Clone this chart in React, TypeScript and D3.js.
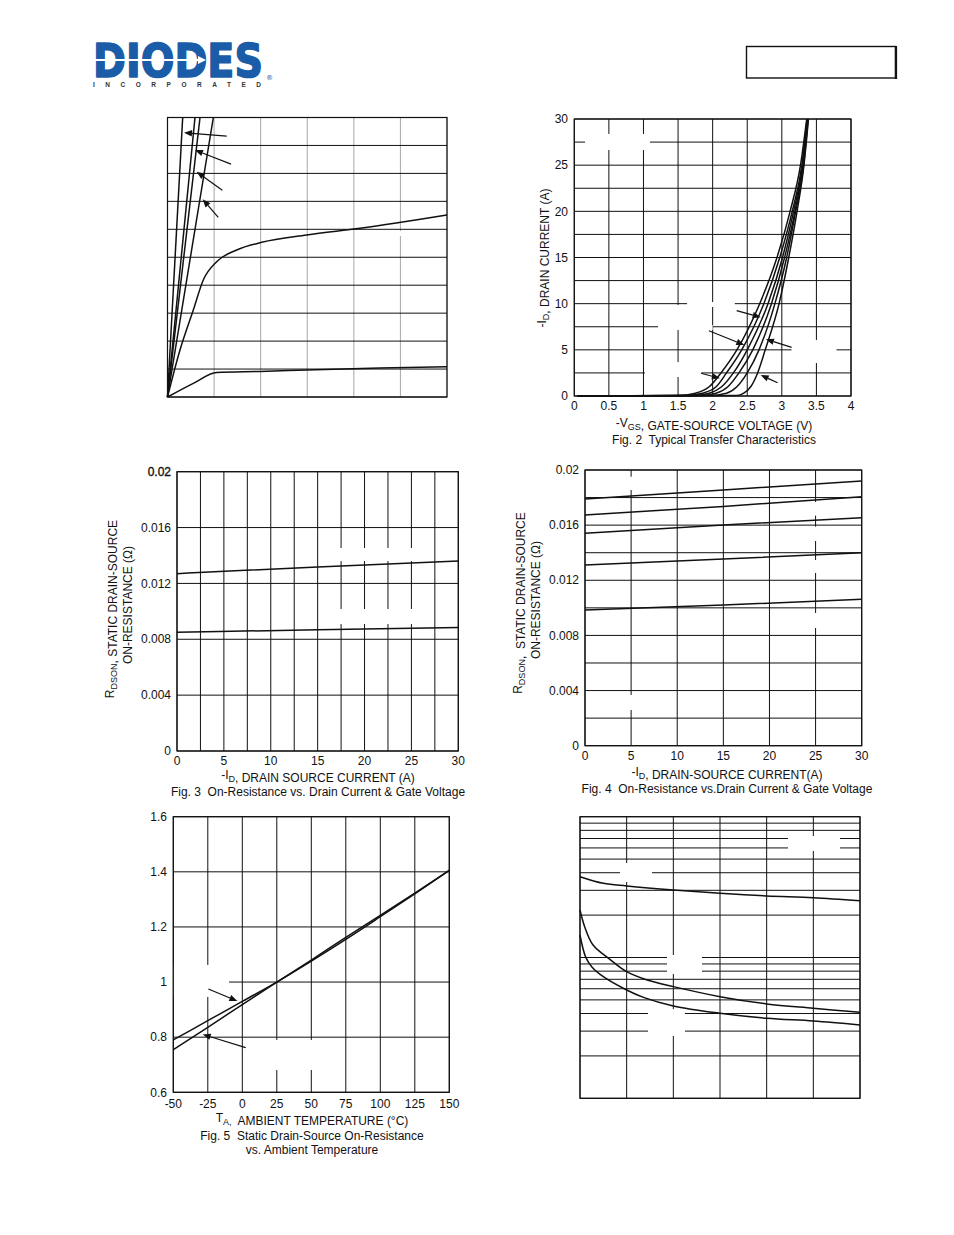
import React from "react";
import * as d3 from "d3";

type Pt = [number, number];

const FONT = "'Liberation Sans', Arial, Helvetica, sans-serif";
const INK = "#111";
const BLUE = "#1a5ca8";

// ---------------- Fig. 1 (axis labels blanked in source) ----------------
const fig1XGrid = [0, 0.5, 1, 1.5, 2, 2.5, 3];
const fig1YGrid = [0, 3, 6, 9, 12, 15, 18, 21, 24, 27, 30];
const fig1Steep1: Pt[] = [[0, 0], [0.163, 30]];
const fig1Steep2: Pt[] = [[0, 0], [0.295, 30]];
const fig1Steep3: Pt[] = [[0, 0], [0.349, 30]];
const fig1Steep4: Pt[] = [[0, 0], [0.492, 30]];
const fig1Knee: Pt[] = [[0, 0], [0.134, 5.04], [0.277, 9.34], [0.384, 12.56], [0.528, 14.52], [0.743, 15.78], [1.011, 16.6], [1.494, 17.39], [2.066, 18.1], [3.0, 19.53]];
const fig1Low: Pt[] = [[0, 0], [0.277, 1.47], [0.528, 2.63], [0.993, 2.74], [1.494, 2.9], [2.28, 3.11], [3.0, 3.25]];
const fig1Arrows: [Pt, Pt][] = [
  [[0.635, 28.01], [0.177, 28.37]],
  [[0.682, 25.0], [0.295, 26.5]],
  [[0.588, 22.2], [0.313, 24.18]],
  [[0.545, 19.29], [0.378, 21.22]],
];
const fig1Blank: number[][] = [[2.066, 2.99, 17.28, 17.82]];

// ---------------- Fig. 2 Typical Transfer Characteristics ----------------
const fig2XTicks = [0, 0.5, 1, 1.5, 2, 2.5, 3, 3.5, 4];
const fig2YTicks = [0, 5, 10, 15, 20, 25, 30];
const fig2YGrid = [0, 2.5, 5, 7.5, 10, 12.5, 15, 17.5, 20, 22.5, 25, 27.5, 30];
const fig2CurveA: Pt[] = [[0.05, 0], [1.5, 0.05], [1.75, 0.3], [1.95, 1], [2.12, 2.5], [2.35, 5], [2.68, 10], [2.93, 15], [3.12, 20], [3.27, 25], [3.36, 30]];
const fig2CurveB: Pt[] = [[0.05, 0], [1.6, 0.05], [1.85, 0.3], [2.05, 1], [2.2, 2.5], [2.42, 5], [2.74, 10], [2.97, 15], [3.15, 20], [3.29, 25], [3.365, 30]];
const fig2CurveC: Pt[] = [[0.05, 0], [1.7, 0.05], [1.95, 0.3], [2.13, 1], [2.3, 2.5], [2.5, 5], [2.8, 10], [3.01, 15], [3.17, 20], [3.3, 25], [3.37, 30]];
const fig2CurveD: Pt[] = [[0.05, 0], [1.8, 0.05], [2.05, 0.3], [2.22, 1], [2.38, 2.5], [2.58, 5], [2.85, 10], [3.04, 15], [3.19, 20], [3.31, 25], [3.375, 30]];
const fig2CurveE: Pt[] = [[0.05, 0], [1.95, 0.05], [2.2, 0.3], [2.35, 1], [2.5, 2.5], [2.67, 5], [2.9, 10], [3.07, 15], [3.2, 20], [3.315, 25], [3.38, 30]];
const fig2CurveF: Pt[] = [[0.05, 0], [2.35, 0.05], [2.45, 0.3], [2.55, 1], [2.65, 2.5], [2.76, 5], [2.96, 10], [3.1, 15], [3.22, 20], [3.32, 25], [3.385, 30]];
const fig2Arrows: [Pt, Pt][] = [
  [[2.347, 9.24], [2.694, 8.52]],
  [[1.946, 7.07], [2.457, 5.52]],
  [[3.142, 5.27], [2.77, 6.14]],
  [[1.831, 2.46], [2.105, 1.92]],
  [[2.939, 1.44], [2.694, 2.27]],
];
const fig2Blank: number[][] = [
  [0.155, 1.094, 26.64, 28.38],
  [1.63, 2.32, 9.64, 10.18],
  [1.21, 2.0, 7.15, 7.69],
  [1.44, 1.56, 7.47, 9.86],
  [3.14, 3.79, 4.77, 5.31],
  [3.44, 3.57, 3.57, 6.07],
  [1.02, 1.84, 2.38, 2.92],
  [1.44, 1.56, 2.06, 3.68],
];

// ---------------- Fig. 3 On-Resistance vs Drain Current ----------------
const fig3XTicks = [0, 5, 10, 15, 20, 25, 30];
const fig3XGrid = [0, 2.5, 5, 7.5, 10, 12.5, 15, 17.5, 20, 22.5, 25, 27.5, 30];
const fig3YTicks = [0, 0.004, 0.008, 0.012, 0.016, 0.02];
const fig3Upper: Pt[] = [[0, 0.0127], [15, 0.01318], [30, 0.0136]];
const fig3Lower: Pt[] = [[0, 0.0085], [15, 0.00868], [30, 0.00884]];
const fig3Blank: number[][] = [
  [16.96, 25.49, 0.0136, 0.01454],
  [16.96, 25.49, 0.00909, 0.01017],
];

// ---------------- Fig. 4 On-Resistance vs Drain Current ----------------
const fig4XTicks = [0, 5, 10, 15, 20, 25, 30];
const fig4YTicks = [0, 0.004, 0.008, 0.012, 0.016, 0.02];
const fig4YGrid = [0, 0.002, 0.004, 0.006, 0.008, 0.01, 0.012, 0.014, 0.016, 0.018, 0.02];
const fig4Curve1: Pt[] = [[0, 0.0179], [15, 0.01855], [30, 0.0192]];
const fig4Curve2: Pt[] = [[0, 0.01674], [15, 0.01736], [30, 0.01806]];
const fig4Curve3: Pt[] = [[0, 0.01541], [15, 0.01601], [30, 0.01654]];
const fig4Curve4: Pt[] = [[0, 0.01311], [15, 0.01354], [30, 0.014]];
const fig4Curve5: Pt[] = [[0, 0.00984], [15, 0.01021], [30, 0.01062]];
const fig4Blank: number[][] = [
  [4.6, 5.4, 0.01855, 0.01951],
  [4.6, 5.4, 0.00259, 0.00368],
  [24.6, 25.4, 0.01669, 0.01768],
  [24.6, 25.4, 0.01485, 0.01589],
  [24.6, 25.4, 0.01253, 0.01347],
  [24.6, 25.4, 0.00854, 0.00963],
];

// ---------------- Fig. 5 On-Resistance vs Temperature ----------------
const fig5XTicks = [-50, -25, 0, 25, 50, 75, 100, 125, 150];
const fig5YTicks = [0.6, 0.8, 1, 1.2, 1.4, 1.6];
const fig5LineA: Pt[] = [[-50, 0.79], [-25, 0.86], [0, 0.93], [25, 1.0], [50, 1.076], [75, 1.155], [100, 1.237], [125, 1.32], [150, 1.405]];
const fig5LineB: Pt[] = [[-50, 0.755], [-25, 0.836], [0, 0.918], [25, 1.0], [50, 1.08], [75, 1.162], [100, 1.242], [125, 1.323], [150, 1.405]];
const fig5Arrows: [Pt, Pt][] = [
  [[-24.6, 0.975], [-3.6, 0.931]],
  [[2.46, 0.762], [-28.7, 0.81]],
];
const fig5Blank: number[][] = [
  [-50, -9.6, 0.946, 1.062],
  [2, 56.3, 0.681, 0.79],
];

// ---------------- Fig. 6 (labels blanked; log scale) ----------------
const fig6XGrid = [0, 5, 10, 15, 20, 25, 30];
const fig6YGrid = [100, 200, 300, 400, 500, 600, 700, 800, 900, 1000, 2000, 3000, 4000, 5000, 6000, 7000, 8000, 9000, 10000];
const fig6Ciss: Pt[] = [[0, 3750], [2.5, 3365], [5, 3220], [10, 3010], [15, 2855], [20, 2735], [25, 2660], [30, 2530]];
const fig6Coss: Pt[] = [[0, 2175], [0.5, 1655], [1.4, 1227], [3.2, 970], [5, 793], [7.2, 692], [10, 621], [15, 527], [20, 468], [25, 436], [30, 408]];
const fig6Crss: Pt[] = [[0, 1445], [0.6, 1010], [1.25, 861], [2.5, 731], [5, 588], [6.8, 521], [10, 453], [15, 402], [20, 370], [25, 354], [30, 332]];
const fig6Blank: number[][] = [
  [4.29, 7.71, 3436, 4690],
  [22.29, 27.86, 5705, 7295],
  [9.32, 13.07, 764, 1042],
  [7.29, 11.25, 277, 430],
];

// ---------------- components ----------------
function Arrow({ x, y, from, to }: any) {
  const x1 = x(from[0]), y1 = y(from[1]), x2 = x(to[0]), y2 = y(to[1]);
  const ang = Math.atan2(y2 - y1, x2 - x1);
  const L = 8, W = 3.2;
  const bx = x2 - L * Math.cos(ang), by = y2 - L * Math.sin(ang);
  const px = -Math.sin(ang) * W, py = Math.cos(ang) * W;
  return (
    <g>
      <line x1={x1} y1={y1} x2={bx} y2={by} stroke={INK} strokeWidth={1.2} />
      <polygon points={`${x2},${y2} ${bx + px},${by + py} ${bx - px},${by - py}`} fill={INK} />
    </g>
  );
}

function Panel({ x, y, xGrid, yGrid, vColor = INK, blanks = [], curves = [], arrows = [], curve = d3.curveMonotoneX }: any) {
  const [xa, xb] = x.range();
  const [ya, yb] = y.range();
  const line = d3.line<Pt>().x((d) => x(d[0])).y((d) => y(d[1])).curve(curve);
  return (
    <g>
      {xGrid.map((t: number, i: number) => (
        <line key={"v" + i} x1={x(t)} x2={x(t)} y1={ya} y2={yb} stroke={vColor} strokeWidth={1} />
      ))}
      {yGrid.map((t: number, i: number) => (
        <line key={"h" + i} x1={xa} x2={xb} y1={y(t)} y2={y(t)} stroke={INK} strokeWidth={1} />
      ))}
      {blanks.map((b: number[], i: number) => {
        const X0 = x(b[0]), X1 = x(b[1]), Y0 = y(b[2]), Y1 = y(b[3]);
        return <rect key={"w" + i} x={Math.min(X0, X1)} y={Math.min(Y0, Y1)} width={Math.abs(X1 - X0)} height={Math.abs(Y1 - Y0)} fill="#fff" />;
      })}
      {curves.map((c: Pt[], i: number) => (
        <path key={"c" + i} d={line(c) || ""} fill="none" stroke={INK} strokeWidth={1.5} />
      ))}
      {arrows.map((a: [Pt, Pt], i: number) => (
        <Arrow key={"a" + i} x={x} y={y} from={a[0]} to={a[1]} />
      ))}
      <rect x={xa} y={yb} width={xb - xa} height={ya - yb} fill="none" stroke={INK} strokeWidth={1.2} />
    </g>
  );
}

function XLabels({ x, ticks, cy }: any) {
  return (
    <g>
      {ticks.map((t: number, i: number) => (
        <text key={i} x={x(t)} y={cy} dy="0.35em" textAnchor="middle" fontSize={12} fill={INK}>{String(t)}</text>
      ))}
    </g>
  );
}

function YLabels({ y, ticks, rx, bold = -1 }: any) {
  return (
    <g>
      {ticks.map((t: number, i: number) => (
        <text key={i} x={rx} y={y(t)} dy="0.35em" textAnchor="end" fontSize={12} fill={INK}
          stroke={i === bold ? INK : "none"} strokeWidth={i === bold ? 0.35 : 0}>{String(t)}</text>
      ))}
    </g>
  );
}

const Sub = ({ children }: any) => (
  <>
    <tspan dy={3} fontSize={9}>{children}</tspan>
    <tspan dy={-3}></tspan>
  </>
);

function T({ children, ...rest }: any) {
  return (
    <text xmlSpace="preserve" fontSize={12} fill={INK} {...rest}>{children}</text>
  );
}

export default function App() {
  // scales
  const x1 = d3.scaleLinear().domain([0, 3]).range([167.5, 447]);
  const y1 = d3.scaleLinear().domain([0, 30]).range([397, 117.5]);
  const x2 = d3.scaleLinear().domain([0, 4]).range([574.3, 851]);
  const y2 = d3.scaleLinear().domain([0, 30]).range([396, 119]);
  const x3 = d3.scaleLinear().domain([0, 30]).range([177, 458.3]);
  const y3 = d3.scaleLinear().domain([0, 0.02]).range([751, 471.7]);
  const x4 = d3.scaleLinear().domain([0, 30]).range([585, 861.7]);
  const y4 = d3.scaleLinear().domain([0, 0.02]).range([745.7, 470]);
  const x5 = d3.scaleLinear().domain([-50, 150]).range([173.3, 449.3]);
  const y5 = d3.scaleLinear().domain([0.6, 1.6]).range([1092.3, 816.7]);
  const x6 = d3.scaleLinear().domain([0, 30]).range([580, 860]);
  const y6 = d3.scaleLog().domain([100, 10000]).range([1098.3, 816.7]);

  return (
    <svg width={954} height={1235} viewBox="0 0 954 1235"
      style={{ position: "absolute", left: 0, top: 0, background: "#fff", fontFamily: FONT }}>
      <rect x={0} y={0} width={954} height={1235} fill="#fff" />

      {/* header: logo as one text block */}
      <text fontFamily="'DejaVu Sans', sans-serif" fontWeight="bold" fill={BLUE}>
        <tspan x={93} y={77} fontSize={47} stroke={BLUE} strokeWidth={1.6} strokeLinejoin="round"
          textLength={170} lengthAdjust="spacingAndGlyphs">DIODES</tspan>
        <tspan x={266} y={80} fontSize={7} fontWeight="normal">®</tspan>
        <tspan x={93} y={87} fontSize={6.5} fill="#333" fontFamily={FONT} textLength={168} lengthAdjust="spacing">INCORPORATED</tspan>
      </text>
      <line x1={93} x2={198} y1={60} y2={60} stroke="#fff" strokeWidth={1.8} />
      <polygon points="198,56 206,60 198,64" fill="#fff" />
      <rect x={746.5} y={46.5} width={149} height={31.5} fill="none" stroke={INK} strokeWidth={1.4} />
      <line x1={896} x2={896} y1={46} y2={79} stroke={INK} strokeWidth={2.2} />

      {/* Fig 1 */}
      <Panel x={x1} y={y1} xGrid={fig1XGrid} yGrid={fig1YGrid} vColor="#a8a8a8" blanks={fig1Blank}
        curves={[fig1Steep1, fig1Steep2, fig1Steep3, fig1Steep4, fig1Knee, fig1Low]} arrows={fig1Arrows} />

      {/* Fig 2 */}
      <Panel x={x2} y={y2} xGrid={fig2XTicks} yGrid={fig2YGrid} blanks={fig2Blank}
        curves={[fig2CurveA, fig2CurveB, fig2CurveC, fig2CurveD, fig2CurveE, fig2CurveF]} arrows={fig2Arrows} />
      <YLabels y={y2} ticks={fig2YTicks} rx={568} />
      <XLabels x={x2} ticks={fig2XTicks} cy={406} />
      <T x={714} y={423} dy="0.35em" textAnchor="middle">-V<Sub>GS</Sub>, GATE-SOURCE VOLTAGE (V)</T>
      <T x={714} y={440} dy="0.35em" textAnchor="middle">Fig. 2  Typical Transfer Characteristics</T>
      <T transform="translate(545.5,258) rotate(-90)" textAnchor="middle">-I<Sub>D</Sub>, DRAIN CURRENT (A)</T>

      {/* Fig 3 */}
      <Panel x={x3} y={y3} xGrid={fig3XGrid} yGrid={fig3YTicks} blanks={fig3Blank} curves={[fig3Upper, fig3Lower]} />
      <YLabels y={y3} ticks={fig3YTicks} rx={171} bold={5} />
      <XLabels x={x3} ticks={fig3XTicks} cy={761} />
      <T x={318} y={775} dy="0.35em" textAnchor="middle">-I<Sub>D</Sub>, DRAIN SOURCE CURRENT (A)</T>
      <T x={318} y={792} dy="0.35em" textAnchor="middle">Fig. 3  On-Resistance vs. Drain Current &amp; Gate Voltage</T>
      <T transform="translate(114,609) rotate(-90)" textAnchor="middle">R<Sub>DSON</Sub>, STATIC DRAIN-SOURCE</T>
      <T transform="translate(131.5,605) rotate(-90)" textAnchor="middle">ON-RESISTANCE (Ω)</T>

      {/* Fig 4 */}
      <Panel x={x4} y={y4} xGrid={fig4XTicks} yGrid={fig4YGrid} blanks={fig4Blank}
        curves={[fig4Curve1, fig4Curve2, fig4Curve3, fig4Curve4, fig4Curve5]} />
      <YLabels y={y4} ticks={fig4YTicks} rx={579} />
      <XLabels x={x4} ticks={fig4XTicks} cy={756} />
      <T x={727} y={772} dy="0.35em" textAnchor="middle">-I<Sub>D</Sub>, DRAIN-SOURCE CURRENT(A)</T>
      <T x={727} y={789} dy="0.35em" textAnchor="middle">Fig. 4  On-Resistance vs.Drain Current &amp; Gate Voltage</T>
      <T transform="translate(521.5,603) rotate(-90)" textAnchor="middle">R<Sub>DSON</Sub>,  STATIC DRAIN-SOURCE</T>
      <T transform="translate(540,600) rotate(-90)" textAnchor="middle">ON-RESISTANCE (Ω)</T>

      {/* Fig 5 */}
      <Panel x={x5} y={y5} xGrid={fig5XTicks} yGrid={fig5YTicks} blanks={fig5Blank}
        curves={[fig5LineA, fig5LineB]} arrows={fig5Arrows} />
      <YLabels y={y5} ticks={fig5YTicks} rx={167} />
      <XLabels x={x5} ticks={fig5XTicks} cy={1104} />
      <T x={312} y={1118} dy="0.35em" textAnchor="middle">T<Sub>A,</Sub>  AMBIENT TEMPERATURE (°C)</T>
      <T x={312} y={1135.5} dy="0.35em" textAnchor="middle">Fig. 5  Static Drain-Source On-Resistance</T>
      <T x={312} y={1149.5} dy="0.35em" textAnchor="middle">vs. Ambient Temperature</T>

      {/* Fig 6 */}
      <Panel x={x6} y={y6} xGrid={fig6XGrid} yGrid={fig6YGrid} blanks={fig6Blank}
        curves={[fig6Ciss, fig6Coss, fig6Crss]} curve={d3.curveCatmullRom.alpha(0.5)} />
    </svg>
  );
}
